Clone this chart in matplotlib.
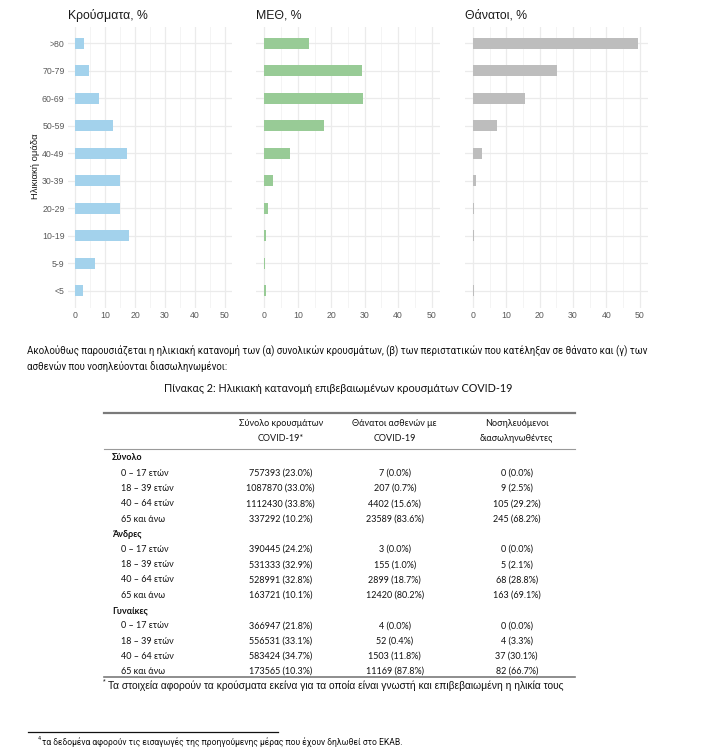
import matplotlib
matplotlib.use('Agg')
import matplotlib.pyplot as plt
from matplotlib.ticker import MultipleLocator
from matplotlib.lines import Line2D

# ---------------- data ----------------
age_groups = ['<5', '5-9', '10-19', '20-29', '30-39', '40-49', '50-59', '60-69', '70-79', '>80']
cases_pct_by_age = [2.4, 6.4, 17.9, 15.1, 15.1, 17.2, 12.5, 7.8, 4.4, 3.0]
icu_pct_by_age = [0.4, 0.2, 0.5, 1.1, 2.6, 7.7, 17.8, 29.5, 29.1, 13.3]
deaths_pct_by_age = [0.2, 0.0, 0.2, 0.4, 0.8, 2.6, 7.1, 15.7, 25.3, 49.5]
panel_titles = ['Κρούσματα, %', 'ΜΕΘ, %', 'Θάνατοι, %']
x_ticks = [0, 10, 20, 30, 40, 50]

table_groups = ['Σύνολο', 'Άνδρες', 'Γυναίκες']
table_ages = ['0 – 17 ετών', '18 – 39 ετών', '40 – 64 ετών', '65 και άνω']
col_headers = [('Σύνολο κρουσμάτων', 'COVID-19*'),
               ('Θάνατοι ασθενών με', 'COVID-19'),
               ('Νοσηλευόμενοι', 'διασωληνωθέντες')]
cases_n = [[757393, 1087870, 1112430, 337292],
           [390445, 531333, 528991, 163721],
           [366947, 556531, 583424, 173565]]
cases_p = [[23.0, 33.0, 33.8, 10.2], [24.2, 32.9, 32.8, 10.1], [21.8, 33.1, 34.7, 10.3]]
deaths_n = [[7, 207, 4402, 23589], [3, 155, 2899, 12420], [4, 52, 1503, 11169]]
deaths_p = [[0.0, 0.7, 15.6, 83.6], [0.0, 1.0, 18.7, 80.2], [0.0, 0.4, 11.8, 87.8]]
intub_n = [[0, 9, 105, 245], [0, 5, 68, 163], [0, 4, 37, 82]]
intub_p = [[0.0, 2.5, 29.2, 68.2], [0.0, 2.1, 28.8, 69.1], [0.0, 3.3, 30.1, 66.7]]

paragraph = ['Ακολούθως παρουσιάζεται η ηλικιακή κατανομή των (α) συνολικών κρουσμάτων, (β) των περιστατικών που κατέληξαν σε θάνατο και (γ) των',
             'ασθενών που νοσηλεύονται διασωληνωμένοι:']
caption = 'Πίνακας 2: Ηλικιακή κατανομή επιβεβαιωμένων κρουσμάτων COVID-19'
table_note = 'Τα στοιχεία αφορούν τα κρούσματα εκείνα για τα οποία είναι γνωστή και επιβεβαιωμένη η ηλικία τους'
page_note = 'τα δεδομένα αφορούν τις εισαγωγές της προηγούμενης μέρας που έχουν δηλωθεί στο ΕΚΑΒ.'

# ---------------- figure ----------------
W, H = 728, 756
fig = plt.figure(figsize=(W / 100, H / 100), dpi=100)
fig.patch.set_facecolor('white')
renderer = fig.canvas.get_renderer()

CHART_FONT = ['Liberation Sans', 'DejaVu Sans']
NARROW_FONT = ['Liberation Sans Narrow', 'Roboto', 'DejaVu Sans']
TABLE_FONT = ['Lato', 'DejaVu Sans']


def fx(x):
    return x / W


def fy(y):
    return 1 - y / H


def fit_size(s, target_w, family, weight='normal', base=10):
    t = fig.text(0, 0, s, fontsize=base, family=family, weight=weight)
    w = t.get_window_extent(renderer).width
    t.remove()
    return base * target_w / w


colors = ['#A3D2EC', '#98CB96', '#BDBDBD']
series = [cases_pct_by_age, icu_pct_by_age, deaths_pct_by_age]
ax_lefts = [68, 256, 464.7]
ax_widths = [164, 184, 183.3]
ax_top, ax_bot = 26.5, 307.5
ypos = list(range(1, len(age_groups) + 1))

for i in range(3):
    ax = fig.add_axes([fx(ax_lefts[i]), fy(ax_bot), ax_widths[i] / W, (ax_bot - ax_top) / H])
    ax.barh(ypos, series[i], height=0.4, color=colors[i], zorder=3)
    ax.set_xlim(-2.5, 52.5)
    ax.set_ylim(0.4, 10.6)
    ax.set_xticks(x_ticks)
    ax.xaxis.set_minor_locator(MultipleLocator(5))
    ax.set_yticks(ypos)
    ax.grid(which='major', color='#EBEBEB', lw=0.9, zorder=0)
    ax.grid(which='minor', axis='x', color='#F2F2F2', lw=0.6, zorder=0)
    for sp in ax.spines.values():
        sp.set_visible(False)
    ax.tick_params(length=0, which='both', colors='#5A5A5A', labelsize=6.3, pad=2.5)
    for lab in ax.get_xticklabels():
        lab.set_family(CHART_FONT)
    if i == 0:
        ax.set_yticklabels(age_groups, family=CHART_FONT)
    else:
        ax.set_yticklabels([])
    fig.text(fx(ax_lefts[i]), fy(15), panel_titles[i], fontsize=8.8, family=CHART_FONT,
             ha='left', va='center', color='#1A1A1A')

fig.text(fx(36), fy(166), 'Ηλικιακή ομάδα', rotation=90, fontsize=6.8, family=CHART_FONT,
         ha='center', va='center', color='#1A1A1A')

# ---------------- paragraph & caption ----------------
psize = fit_size(paragraph[0], 621, NARROW_FONT)
fig.text(fx(27), fy(350), paragraph[0], fontsize=psize, family=NARROW_FONT, ha='left', va='center', color='#111111')
fig.text(fx(27), fy(367), paragraph[1], fontsize=psize, family=NARROW_FONT, ha='left', va='center', color='#111111')

csize = fit_size(caption, 346, TABLE_FONT)
fig.text(fx(338), fy(388), caption, fontsize=csize, family=TABLE_FONT, ha='center', va='center', color='#111111')

# ---------------- table ----------------
tsize = fit_size('757393 (23.0%)', 63, TABLE_FONT)
fig.add_artist(Line2D([fx(104), fx(575)], [fy(412.7), fy(412.7)], color='#7A7A7A', lw=1.6, transform=fig.transFigure))
fig.add_artist(Line2D([fx(104), fx(575)], [fy(449.3), fy(449.3)], color='#9A9A9A', lw=0.8, transform=fig.transFigure))
fig.add_artist(Line2D([fx(104), fx(575)], [fy(677), fy(677)], color='#7A7A7A', lw=1.2, transform=fig.transFigure))

col_x = [280.7, 394.8, 516.7]
for c, (h1, h2) in enumerate(col_headers):
    fig.text(fx(col_x[c]), fy(423), h1, fontsize=tsize, family=TABLE_FONT, ha='center', va='center', color='#111111')
    fig.text(fx(col_x[c]), fy(438), h2, fontsize=tsize, family=TABLE_FONT, ha='center', va='center', color='#111111')

row = 0
step = 15.25
for g in range(3):
    y = 458 + row * step
    fig.text(fx(112), fy(y), table_groups[g], fontsize=tsize, family=TABLE_FONT, weight='bold',
             ha='left', va='center', color='#111111')
    row += 1
    for a in range(4):
        y = 458 + row * step
        fig.text(fx(121), fy(y), table_ages[a], fontsize=tsize, family=TABLE_FONT, ha='left', va='center', color='#111111')
        vals = [f'{cases_n[g][a]} ({cases_p[g][a]:.1f}%)',
                f'{deaths_n[g][a]} ({deaths_p[g][a]:.1f}%)',
                f'{intub_n[g][a]} ({intub_p[g][a]:.1f}%)']
        for c in range(3):
            fig.text(fx(col_x[c]), fy(y), vals[c], fontsize=tsize, family=TABLE_FONT, ha='center', va='center', color='#111111')
        row += 1

nsize = fit_size(table_note, 456, CHART_FONT)
fig.text(fx(103), fy(682), '*', fontsize=nsize * 0.7, family=CHART_FONT, ha='left', va='center', color='#111111')
fig.text(fx(107.5), fy(686), table_note, fontsize=nsize, family=CHART_FONT, ha='left', va='center', color='#111111')

# ---------------- page footnote ----------------
fig.add_artist(Line2D([fx(28), fx(278)], [fy(732), fy(732)], color='#111111', lw=0.9, transform=fig.transFigure))
fsize = fit_size(page_note, 362, NARROW_FONT)
fig.text(fx(38), fy(739), '4', fontsize=fsize * 0.6, family=NARROW_FONT, ha='left', va='center', color='#111111')
fig.text(fx(42), fy(742), page_note, fontsize=fsize, family=NARROW_FONT, ha='left', va='center', color='#111111')

fig.savefig('out.png', dpi=100, facecolor='white')
